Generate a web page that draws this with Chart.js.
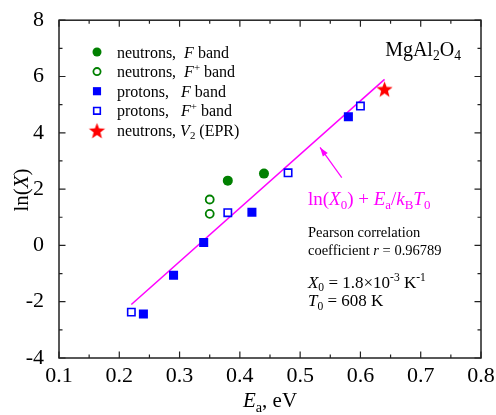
<!DOCTYPE html>
<html>
<head>
<meta charset="utf-8">
<script src="https://cdn.jsdelivr.net/npm/chart.js@4/dist/chart.umd.min.js"></script>
<style>
  html, body { margin: 0; padding: 0; background: #fff; }
  #wrap { width: 496px; height: 415px; }
</style>
</head>
<body>
<div id="wrap"><canvas id="chart" width="496" height="415"></canvas></div>
<script>
// Activation energy Ea (eV) and ln(X)
const neutronF_x  = [0.38, 0.44];
const neutronF_y  = [2.30, 2.55];
const neutronFp_x = [0.35, 0.35];
const neutronFp_y = [1.63, 1.12];
const protonF_x   = [0.24, 0.29, 0.34, 0.42, 0.58];
const protonF_y   = [-2.44, -1.06, 0.10, 1.18, 4.57];
const protonFp_x  = [0.22, 0.38, 0.48, 0.60];
const protonFp_y  = [-2.37, 1.16, 2.58, 4.95];
const neutronV2_x = [0.64];
const neutronV2_y = [5.56];
// fitted line ln(X0) + Ea/kB*T0, end points
const fit_x = [0.22, 0.64];
const fit_y = [-2.10, 5.90];

const xTicks = [0.1, 0.2, 0.3, 0.4, 0.5, 0.6, 0.7, 0.8];
const yTicks = [-4, -2, 0, 2, 4, 6, 8];

const SERIF = '"Liberation Serif", "Times New Roman", serif';
const GREEN = '#008000';
const BLUE = '#0000ff';
const RED = '#ff0000';
const MAGENTA = '#ff00ff';

const pts = (xs, ys) => xs.map((v, i) => ({ x: v, y: ys[i] }));

// red five point star used as a point style
function makeStar(r)
{
	const c = document.createElement('canvas');
	const s = Math.ceil(r * 2 + 2);
	c.width = s; c.height = s;
	const g = c.getContext('2d');
	g.fillStyle = RED;
	g.beginPath();
	for (let i = 0; i < 10; i++) {
		const rad = i % 2 ? r * 0.42 : r;
		const ang = -Math.PI / 2 + i * Math.PI / 5;
		const px = s / 2 + rad * Math.cos(ang), py = s / 2 + 1 + rad * Math.sin(ang);
		i ? g.lineTo(px, py) : g.moveTo(px, py);
	}
	g.closePath();
	g.fill();
	return c;
}
const star = makeStar(8.5);

/*
 * Draw text made of runs: [text, style] where style may hold
 * i (italic), sub, sup.
 */
function rich(ctx, x, y, runs, size, color)
{
	ctx.fillStyle = color;
	ctx.textBaseline = 'alphabetic';
	ctx.textAlign = 'left';
	for (const [t, st = ''] of runs) {
		const small = st.includes('sub') || st.includes('sup');
		const fs = small ? size * 0.68 : size;
		const dy = st.includes('sub') ? size * 0.22 : st.includes('sup') ? -size * 0.4 : 0;
		ctx.font = (st.includes('i') ? 'italic ' : '') + fs + 'px ' + SERIF;
		ctx.fillText(t, x, y + dy);
		x += ctx.measureText(t).width;
	}
	return x;
}
function richWidth(ctx, runs, size)
{
	let w = 0;
	for (const [t, st = ''] of runs) {
		const small = st.includes('sub') || st.includes('sup');
		ctx.font = (st.includes('i') ? 'italic ' : '') + (small ? size * 0.68 : size) + 'px ' + SERIF;
		w += ctx.measureText(t).width;
	}
	return w;
}

const datasets = [
	{ label: 'neutrons, V2 (EPR)', data: pts(neutronV2_x, neutronV2_y), pointStyle: star, pointRadius: 9 },
	{ label: 'neutrons, F band', data: pts(neutronF_x, neutronF_y), pointStyle: 'circle', pointRadius: 5, backgroundColor: GREEN, borderColor: GREEN, borderWidth: 0 },
	{ label: 'neutrons, F+ band', data: pts(neutronFp_x, neutronFp_y), pointStyle: 'circle', pointRadius: 4, backgroundColor: '#fff', borderColor: GREEN, borderWidth: 1.8 },
	{ label: 'protons, F band', data: pts(protonF_x, protonF_y), pointStyle: 'rect', pointRadius: 6.4, backgroundColor: BLUE, borderColor: BLUE, borderWidth: 0 },
	{ label: 'protons, F+ band', data: pts(protonFp_x, protonFp_y), pointStyle: 'rect', pointRadius: 5.2, backgroundColor: '#fff', borderColor: BLUE, borderWidth: 1.6 },
	{ label: 'fit', data: pts(fit_x, fit_y), showLine: true, pointRadius: 0, borderColor: MAGENTA, borderWidth: 1.5 }
];

// legend rows, pointing at the datasets above
const legendRows = [
	{ ds: 1, runs: [['neutrons,  '], ['F', 'i'], [' band']] },
	{ ds: 2, runs: [['neutrons,  '], ['F', 'i'], ['+', 'sup'], [' band']] },
	{ ds: 3, runs: [['protons,   '], ['F', 'i'], [' band']] },
	{ ds: 4, runs: [['protons,   '], ['F', 'i'], ['+', 'sup'], [' band']] },
	{ ds: 0, runs: [['neutrons, '], ['V', 'i'], ['2', 'sub'], [' (EPR)']] }
];

const framePlugin = {
	id: 'frame',
	afterDraw(chart)
	{
		const { ctx, chartArea: a, scales: { x, y } } = chart;
		ctx.save();
		ctx.strokeStyle = '#222';
		ctx.lineWidth = 1.5;
		ctx.strokeRect(a.left, a.top, a.right - a.left, a.bottom - a.top);

		// inward ticks on all four sides, minor ones half way
		ctx.lineWidth = 1.2;
		ctx.beginPath();
		xTicks.forEach((v, i) => {
			const vals = i < xTicks.length - 1 ? [v, (v + xTicks[i + 1]) / 2] : [v];
			vals.forEach((t, k) => {
				const p = x.getPixelForValue(t), len = k ? 3.5 : 6.5;
				ctx.moveTo(p, a.bottom); ctx.lineTo(p, a.bottom - len);
				ctx.moveTo(p, a.top); ctx.lineTo(p, a.top + len);
			});
		});
		yTicks.forEach((v, i) => {
			const vals = i < yTicks.length - 1 ? [v, (v + yTicks[i + 1]) / 2] : [v];
			vals.forEach((t, k) => {
				const p = y.getPixelForValue(t), len = k ? 3.5 : 6.5;
				ctx.moveTo(a.left, p); ctx.lineTo(a.left + len, p);
				ctx.moveTo(a.right, p); ctx.lineTo(a.right - len, p);
			});
		});
		ctx.stroke();

		// axis titles
		const xr = [['E', 'i'], ['a', 'sub'], [', eV']];
		rich(ctx, (a.left + a.right) / 2 - richWidth(ctx, xr, 21) / 2, 407, xr, 21, '#000');
		const yr = [['ln('], ['X', 'i'], [')']];
		ctx.save();
		ctx.translate(28, 190);
		ctx.rotate(-Math.PI / 2);
		rich(ctx, -richWidth(ctx, yr, 21) / 2, 0, yr, 21, '#000');
		ctx.restore();

		// legend
		legendRows.forEach((row, i) => {
			const ds = chart.data.datasets[row.ds];
			const cy = 52 + i * 19.6;
			ctx.fillStyle = ds.backgroundColor || RED;
			ctx.strokeStyle = ds.borderColor || RED;
			ctx.lineWidth = ds.borderWidth || 0;
			Chart.helpers.drawPoint(ctx, {
				pointStyle: ds.pointStyle, radius: ds.pointRadius * 0.9, rotation: 0,
				borderWidth: ds.borderWidth || 0
			}, 97, cy);
			rich(ctx, 117, cy + 5.5, row.runs, 16, '#000');
		});

		// label of the sample
		rich(ctx, x.getPixelForValue(0.641), y.getPixelForValue(6.73),
			[['MgAl'], ['2', 'sub'], ['O'], ['4', 'sub']], 20, '#000');

		// fit formula and its arrow
		rich(ctx, x.getPixelForValue(0.513), y.getPixelForValue(1.43),
			[['ln('], ['X', 'i'], ['0', 'sub'], [') + '], ['E', 'i'], ['a', 'sub'], ['/'], ['k', 'i'], ['B', 'sub'], ['T', 'i'], ['0', 'sub']], 19, MAGENTA);
		const tx = x.getPixelForValue(0.569), ty = y.getPixelForValue(2.41);
		const hx = x.getPixelForValue(0.533), hy = y.getPixelForValue(3.48);
		ctx.strokeStyle = MAGENTA; ctx.fillStyle = MAGENTA; ctx.lineWidth = 1.2;
		ctx.beginPath(); ctx.moveTo(tx, ty); ctx.lineTo(hx, hy); ctx.stroke();
		const ang = Math.atan2(hy - ty, hx - tx);
		ctx.beginPath();
		ctx.moveTo(hx, hy);
		ctx.lineTo(hx - 9 * Math.cos(ang) + 3 * Math.sin(ang), hy - 9 * Math.sin(ang) - 3 * Math.cos(ang));
		ctx.lineTo(hx - 9 * Math.cos(ang) - 3 * Math.sin(ang), hy - 9 * Math.sin(ang) + 3 * Math.cos(ang));
		ctx.closePath(); ctx.fill();

		// statistics
		const sx = x.getPixelForValue(0.513);
		rich(ctx, sx, y.getPixelForValue(0.29), [['Pearson correlation']], 14.5, '#000');
		rich(ctx, sx, y.getPixelForValue(-0.33), [['coefficient '], ['r', 'i'], [' = 0.96789']], 14.5, '#000');
		rich(ctx, sx, y.getPixelForValue(-1.50), [['X', 'i'], ['0', 'sub'], [' = 1.8\u00d710'], ['-3', 'sup'], [' K'], ['-1', 'sup']], 17, '#000');
		rich(ctx, sx, y.getPixelForValue(-2.17), [['T', 'i'], ['0', 'sub'], [' = 608 K']], 17, '#000');
		ctx.restore();
	}
};

const tickFont = { family: SERIF, size: 22 };

new Chart(document.getElementById('chart'), {
	type: 'scatter',
	data: { datasets },
	options: {
		responsive: false,
		animation: false,
		layout: { padding: { top: 20, right: 15, left: 0, bottom: 0 } },
		plugins: { legend: { display: false }, tooltip: { enabled: false } },
		scales: {
			x: {
				type: 'linear', min: 0.1, max: 0.8,
				grid: { display: false }, border: { display: false },
				ticks: { stepSize: 0.1, color: '#000', font: tickFont, padding: -3, maxRotation: 0,
					callback: v => v.toFixed(1) },
				afterFit: s => { s.height = 57; }
			},
			y: {
				type: 'linear', min: -4, max: 8,
				grid: { display: false }, border: { display: false },
				ticks: { stepSize: 2, color: '#000', font: tickFont, padding: 7 },
				afterFit: s => { s.width = 59; }
			}
		}
	},
	plugins: [framePlugin]
});
</script>
</body>
</html>
